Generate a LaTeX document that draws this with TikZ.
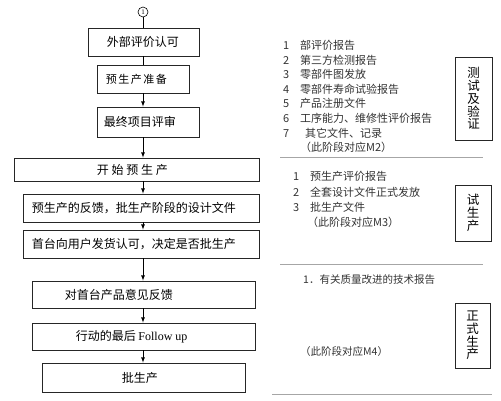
\documentclass[tikz,border=0pt]{standalone}
\usepackage{fontspec}
\setmainfont{Liberation Serif}
\newfontfamily\cjk{Noto Sans CJK SC}
\tikzset{
  stage/.style={draw=black!85, line width=0.8pt, inner sep=0pt},
  stagetext/.style={anchor=west, inner sep=0pt, font=\cjk\fontsize{12}{14}\selectfont},
  listline/.style={anchor=west, inner sep=0pt, text=black!80, font=\cjk\fontsize{11}{13}\selectfont},
  phase/.style={draw=black!85, line width=0.8pt, inner sep=0pt, align=center, font=\cjk\fontsize{12.5}{12.75}\selectfont},
  rule/.style={draw=black!35, line width=0.9pt},
}

\begin{document}
\begin{tikzpicture}[x=1pt,y=-1pt,>=latex]
\useasboundingbox (0,0) rectangle (501,400);

\node[draw, circle, line width=0.6pt, inner sep=0pt, minimum size=10pt, font=\fontsize{7}{7}\selectfont] (c0) at (143,12) {1};

\node[stage, minimum width=111pt, minimum height=28pt] (b1) at (143.5,42) {};
\node[stage, minimum width=92pt, minimum height=28pt] (b2) at (143,79) {};
\node[stage, minimum width=102pt, minimum height=30pt] (b3) at (148,122) {};
\node[stage, minimum width=245pt, minimum height=23pt] (b4) at (136.5,169.5) {};
\node[stage, minimum width=236pt, minimum height=28pt] (b5) at (141,208) {};
\node[stage, minimum width=236pt, minimum height=28pt] (b6) at (141,244) {};
\node[stage, minimum width=223pt, minimum height=27pt] (b7) at (143.5,294.5) {};
\node[stage, minimum width=223pt, minimum height=27pt] (b8) at (143.5,336.5) {};
\node[stage, minimum width=203pt, minimum height=29pt] (b9) at (143.5,377.5) {};

\node[stagetext] (t1) at ([xshift=19pt]b1.west) {外部评价认可};
\node[stagetext, font=\cjk\fontsize{11}{13}\selectfont] (t2) at ([xshift=9pt]b2.west) {预\hspace{1.5pt}生\hspace{1.5pt}产\hspace{1.5pt}准\hspace{1.5pt}备};
\node[stagetext] (t3) at ([xshift=7pt]b3.west) {最终项目评审};
\node[stagetext] (t4) at ([xshift=83pt]b4.west) {开\hspace{2.75pt}始\hspace{2.75pt}预\hspace{2.75pt}生\hspace{2.75pt}产};
\node[stagetext] (t5) at ([xshift=9pt]b5.west) {预生产的反馈，批生产阶段的设计文件};
\node[stagetext] (t6) at ([xshift=9pt]b6.west) {首台向用户发货认可，决定是否批生产};
\node[stagetext] (t7) at ([xshift=33pt]b7.west) {对首台产品意见反馈};
\node[stagetext] (t8) at ([xshift=44pt]b8.west) {行动的最后 {\rmfamily Follow up}};
\node[stagetext] (t9) at ([xshift=80pt]b9.west) {批生产};

\draw[line width=0.8pt] (c0) -- (c0 |- b1.north);
\draw[line width=0.8pt] (b1.south -| c0) -- (b2.north -| c0);
\draw[line width=0.8pt, ->] (b2.south -| c0) -- (b3.north -| c0);
\draw[line width=0.8pt, ->] (b3.south -| c0) -- (b4.north -| c0);
\draw[line width=0.8pt, ->] (b4.south -| c0) -- (b5.north -| c0);
\draw[line width=0.8pt, ->] (b5.south -| c0) -- (b6.north -| c0);
\draw[line width=0.8pt, ->] (b6.south -| c0) -- (b7.north -| c0);
\draw[line width=0.8pt, ->] (b7.south -| c0) -- (b8.north -| c0);
\draw[line width=0.8pt, ->] (b8.south -| c0) -- (b9.north -| c0);

\node[listline] (a1) at (283,45) {\makebox[17pt][l]{1}部评价报告};
\node[listline] (a2) at (283,60) {\makebox[17pt][l]{2}第三方检测报告};
\node[listline] (a3) at (283,74) {\makebox[17pt][l]{3}零部件图发放};
\node[listline] (a4) at (283,89) {\makebox[17pt][l]{4}零部件寿命试验报告};
\node[listline] (a5) at (283,103) {\makebox[17pt][l]{5}产品注册文件};
\node[listline] (a6) at (283,118) {\makebox[17pt][l]{6}工序能力、维修性评价报告};
\node[listline] (a7) at (283,133) {\makebox[22pt][l]{7}其它文件、记录};
\node[listline] (a8) at (300,147) {（此阶段对应M2）};
\node[phase, minimum width=37pt, minimum height=83pt] (p1) at (473.5,98.5) {测\\试\\及\\验\\证};
\draw[rule] (280,157) -- (483,157);

\node[listline] (m1) at (293,176) {\makebox[17pt][l]{1}预生产评价报告};
\node[listline] (m2) at (293,192) {\makebox[17pt][l]{2}全套设计文件正式发放};
\node[listline] (m3) at (293,207) {\makebox[17pt][l]{3}批生产文件};
\node[listline] (m4) at (307,222) {（此阶段对应M3）};
\node[phase, minimum width=36pt, minimum height=56pt] (p2) at (473,213) {试\\生\\产};
\draw[rule] (280,264) -- (483,264);

\node[listline, font=\cjk\fontsize{10.5}{13}\selectfont] (n1) at (303,280) {1．有关质量改进的技术报告};
\node[listline, font=\cjk\fontsize{10.5}{13}\selectfont] (n2) at (300,352) {（此阶段对应M4）};
\node[phase, minimum width=35pt, minimum height=65pt] (p3) at (472.5,335.5) {正\\式\\生\\产};
\draw[rule] (272,394) -- (492,394);
\end{tikzpicture}
\end{document}
